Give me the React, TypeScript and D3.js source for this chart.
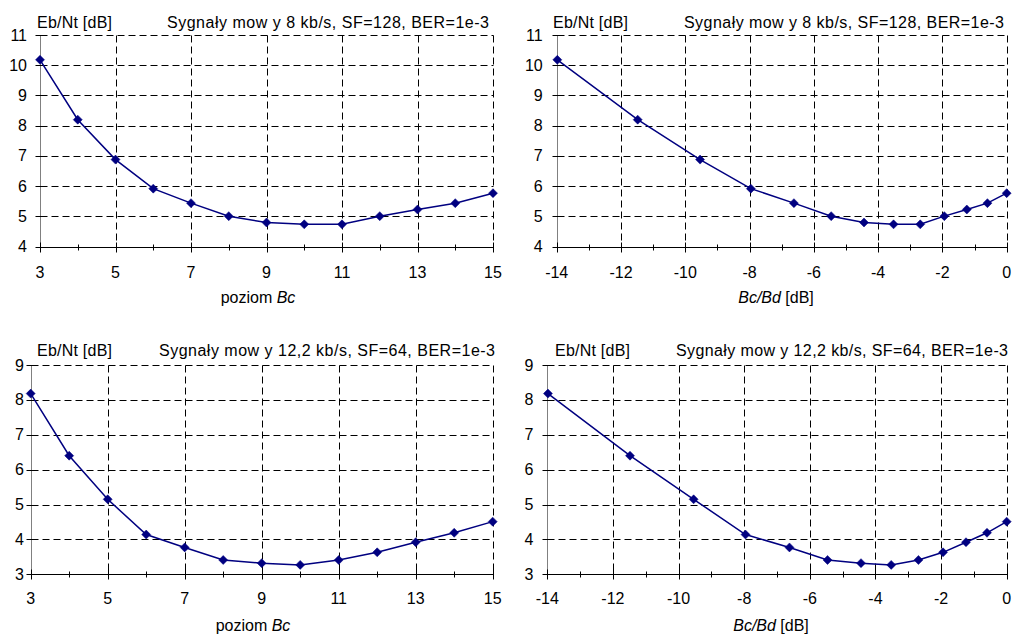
import React, { useEffect } from "react";
import * as d3 from "d3";

// ---- data ----
const bcLevels = [3, 4, 5, 6, 7, 8, 9, 10, 11, 12, 13, 14, 15];
const bcBdDb = [-13.98, -11.48, -9.54, -7.96, -6.62, -5.46, -4.44, -3.52, -2.69, -1.94, -1.24, -0.6, 0];
const ebnt8k = [10.18, 8.2, 6.88, 5.92, 5.44, 5.01, 4.8, 4.74, 4.74, 5.01, 5.23, 5.44, 5.77];
const ebnt12k = [8.18, 6.4, 5.15, 4.14, 3.77, 3.41, 3.32, 3.27, 3.41, 3.63, 3.92, 4.19, 4.51];
const xMajorLevels = [3, 5, 7, 9, 11, 13, 15];
const xMinorLevels = [4, 6, 8, 10, 12, 14];
const xMajorDb = [-14, -12, -10, -8, -6, -4, -2, 0];
const xMinorDb = [-13, -11, -9, -7, -5, -3, -1];
const yTicksTop = [4, 5, 6, 7, 8, 9, 10, 11];
const yTicksBottom = [3, 4, 5, 6, 7, 8, 9];
const yLabel = "Eb/Nt [dB]";
const title8k = "Sygnały mow y 8 kb/s, SF=128, BER=1e-3";
const title12k = "Sygnały mow y 12,2 kb/s, SF=64, BER=1e-3";

const FONT = "Arial, 'Liberation Sans', sans-serif";
const NAVY = "#000080";

type Panel = {
  xs: number[];
  ys: number[];
  xDomain: [number, number];
  yDomain: [number, number];
  xMajor: number[];
  xMinor: number[];
  yTicks: number[];
  title: string;
  xTitle: "level" | "db";
  left: number; right: number; top: number; bottom: number;
  yLabelEnd: number;
  headerY: number;
  headerX: number;
  titleStart: number; titleEnd: number;
  tickLabelY: number;
  axisTitleY: number;
  axisTitleX: number;
};

const panels: Panel[] = [
  {
    xs: bcLevels, ys: ebnt8k, xDomain: [3, 15], yDomain: [4, 11],
    xMajor: xMajorLevels, xMinor: xMinorLevels, yTicks: yTicksTop,
    title: title8k, xTitle: "level",
    left: 40, right: 493, top: 35, bottom: 246.7,
    yLabelEnd: 27, headerY: 27.5, headerX: 37, titleStart: 167, titleEnd: 489,
    tickLabelY: 277.5, axisTitleY: 302.5, axisTitleX: 258,
  },
  {
    xs: bcBdDb, ys: ebnt8k, xDomain: [-14, 0], yDomain: [4, 11],
    xMajor: xMajorDb, xMinor: xMinorDb, yTicks: yTicksTop,
    title: title8k, xTitle: "db",
    left: 556.7, right: 1006.7, top: 35, bottom: 246.7,
    yLabelEnd: 542.7, headerY: 27.5, headerX: 553, titleStart: 684, titleEnd: 1004,
    tickLabelY: 277.5, axisTitleY: 302.5, axisTitleX: 776,
  },
  {
    xs: bcLevels, ys: ebnt12k, xDomain: [3, 15], yDomain: [3, 9],
    xMajor: xMajorLevels, xMinor: xMinorLevels, yTicks: yTicksBottom,
    title: title12k, xTitle: "level",
    left: 30.7, right: 492.7, top: 365, bottom: 574.3,
    yLabelEnd: 24, headerY: 356, headerX: 37, titleStart: 159, titleEnd: 495,
    tickLabelY: 603.5, axisTitleY: 631, axisTitleX: 253,
  },
  {
    xs: bcBdDb, ys: ebnt12k, xDomain: [-14, 0], yDomain: [3, 9],
    xMajor: xMajorDb, xMinor: xMinorDb, yTicks: yTicksBottom,
    title: title12k, xTitle: "db",
    left: 547.3, right: 1006.7, top: 365, bottom: 574.3,
    yLabelEnd: 533.5, headerY: 356, headerX: 555, titleStart: 676, titleEnd: 1008,
    tickLabelY: 603.5, axisTitleY: 631, axisTitleX: 771,
  },
];

const snap = (v: number) => Math.round(v) + 0.5;

function ChartPanel({ p }: { p: Panel }) {
  const x = d3.scaleLinear().domain(p.xDomain).range([p.left, p.right]);
  const y = d3.scaleLinear().domain(p.yDomain).range([p.bottom, p.top]);
  const line = d3
    .line<number>()
    .x((_, i) => x(p.xs[i]))
    .y((d) => y(d));
  const axisX = snap(p.left);
  const axisY = snap(p.bottom);
  const dash = "7,4";
  return (
    <g>
      {/* horizontal grid */}
      {p.yTicks
        .filter((t) => t !== p.yDomain[0])
        .map((t) => (
          <line key={"hg" + t} x1={axisX} x2={snap(p.right)} y1={snap(y(t))} y2={snap(y(t))}
            stroke="#000" strokeWidth={1} strokeDasharray={dash} />
        ))}
      {/* vertical grid */}
      {p.xMajor
        .filter((t) => t !== p.xDomain[0])
        .map((t) => (
          <line key={"vg" + t} x1={snap(x(t))} x2={snap(x(t))} y1={snap(p.top)} y2={axisY}
            stroke="#000" strokeWidth={1} strokeDasharray={dash} />
        ))}
      {/* y axis */}
      <line x1={axisX} x2={axisX} y1={snap(p.top)} y2={axisY} stroke="#808080" strokeWidth={1} />
      {p.yTicks.map((t) => (
        <line key={"yt" + t} x1={axisX - 5} x2={axisX + 5} y1={snap(y(t))} y2={snap(y(t))}
          stroke="#000" strokeWidth={1} />
      ))}
      {p.yTicks.map((t) => (
        <text key={"yl" + t} x={p.yLabelEnd} y={y(t) + 5.5} textAnchor="end"
          fontFamily={FONT} fontSize={16} fill="#000">{t}</text>
      ))}
      {/* x axis */}
      <line x1={axisX} x2={snap(p.right)} y1={axisY} y2={axisY} stroke="#000" strokeWidth={1} />
      {p.xMajor.map((t) => (
        <line key={"xM" + t} x1={snap(x(t))} x2={snap(x(t))} y1={axisY - 5} y2={axisY + 5}
          stroke="#000" strokeWidth={1} />
      ))}
      {p.xMinor.map((t) => (
        <line key={"xm" + t} x1={snap(x(t))} x2={snap(x(t))} y1={axisY - 3} y2={axisY + 3}
          stroke="#000" strokeWidth={1} />
      ))}
      {p.xMajor.map((t) => (
        <text key={"xl" + t} x={x(t)} y={p.tickLabelY} textAnchor="middle"
          fontFamily={FONT} fontSize={16} fill="#000">{t}</text>
      ))}
      {/* axis title */}
      <text x={p.axisTitleX} y={p.axisTitleY} textAnchor="middle" fontFamily={FONT} fontSize={16} fill="#000">
        {p.xTitle === "level" ? (
          <>
            <tspan>poziom </tspan>
            <tspan fontStyle="italic">Bc</tspan>
          </>
        ) : (
          <>
            <tspan fontStyle="italic">Bc/Bd</tspan>
            <tspan> [dB]</tspan>
          </>
        )}
      </text>
      {/* header */}
      <text x={p.headerX} y={p.headerY} fontFamily={FONT} fontSize={16} fill="#000"
        textLength={75} lengthAdjust="spacing">{yLabel}</text>
      <text x={p.titleStart} y={p.headerY} fontFamily={FONT} fontSize={16} fill="#000"
        textLength={p.titleEnd - p.titleStart} lengthAdjust="spacing">{p.title}</text>
      {/* series */}
      <path d={line(p.ys) || ""} fill="none" stroke={NAVY} strokeWidth={1.5} />
      {p.ys.map((v, i) => {
        const cx = x(p.xs[i]);
        const cy = y(v);
        const r = 4.5;
        return (
          <path key={"m" + i}
            d={`M${cx},${cy - r}L${cx + r},${cy}L${cx},${cy + r}L${cx - r},${cy}Z`}
            fill={NAVY} stroke={NAVY} strokeWidth={0.5} />
        );
      })}
    </g>
  );
}

export default function App() {
  useEffect(() => {
    document.body.style.margin = "0";
  }, []);
  return (
    <svg width={1012} height={635} viewBox="0 0 1012 635"
      style={{ position: "absolute", left: 0, top: 0, background: "#fff", display: "block" }}>
      <rect x={0} y={0} width={1012} height={635} fill="#fff" />
      {panels.map((p, i) => (
        <ChartPanel key={i} p={p} />
      ))}
    </svg>
  );
}
